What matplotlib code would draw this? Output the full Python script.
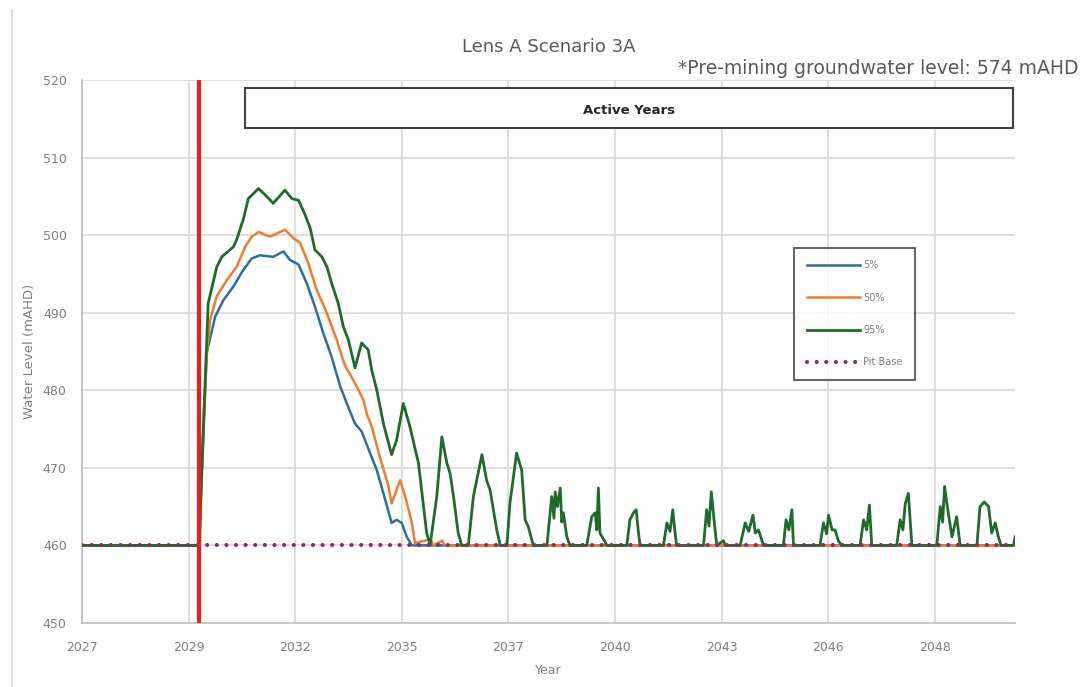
import matplotlib
matplotlib.use('Agg')
import matplotlib.pyplot as plt
from matplotlib.patches import Rectangle
from matplotlib.lines import Line2D

plt.rcParams['font.family'] = ['DejaVu Sans']

# modelled water level (mAHD) by decimal year
yr_5 = [2027.00, 2030.00, 2030.07, 2030.20, 2030.42, 2030.63, 2030.89, 2031.14,
        2031.36, 2031.57, 2031.91, 2032.17, 2032.34, 2032.56, 2032.77, 2032.98,
        2033.20, 2033.41, 2033.63, 2033.80, 2034.01, 2034.18, 2034.35, 2034.57,
        2034.74, 2034.95, 2035.08, 2035.21, 2035.34, 2035.47, 2050.96]
wl_5 = [460.0, 460.0, 468.0, 484.8, 489.5, 491.6, 493.4, 495.5,
        497.0, 497.4, 497.2, 497.9, 496.8, 496.2, 493.8, 490.8,
        487.3, 484.3, 480.5, 478.3, 475.7, 474.7, 472.5, 469.7,
        466.7, 462.9, 463.3, 462.9, 461.1, 460.0, 460.0]

yr_50 = [2027.00, 2030.00, 2030.07, 2030.20, 2030.29, 2030.46, 2030.72, 2030.97,
         2031.19, 2031.36, 2031.53, 2031.83, 2032.21, 2032.43, 2032.60, 2032.81,
         2033.03, 2033.29, 2033.54, 2033.75, 2033.97, 2034.14, 2034.23, 2034.31,
         2034.44, 2034.65, 2034.87, 2034.95, 2035.17, 2035.30, 2035.47, 2035.55,
         2035.95, 2036.02, 2036.25, 2036.32, 2050.96]
wl_50 = [460.0, 460.0, 470.0, 484.3, 489.1, 492.1, 494.2, 495.9,
         498.5, 499.8, 500.4, 499.8, 500.7, 499.6, 499.0, 496.4,
         492.9, 489.9, 486.5, 483.2, 481.3, 479.6, 478.7, 477.0,
         475.3, 471.4, 467.6, 465.4, 468.4, 466.3, 462.9, 460.3,
         460.8, 460.0, 460.6, 460.0, 460.0]

yr_95 = [2027.00, 2030.02, 2030.07, 2030.24, 2030.46, 2030.59, 2030.89, 2030.97,
         2031.14, 2031.27, 2031.53, 2031.70, 2031.91, 2032.21, 2032.39, 2032.56,
         2032.73, 2032.86, 2032.98, 2033.16, 2033.29, 2033.41, 2033.58, 2033.71,
         2033.84, 2034.01, 2034.18, 2034.35, 2034.44, 2034.57, 2034.74, 2034.95,
         2035.08, 2035.25, 2035.42, 2035.64, 2035.85, 2035.94, 2036.11, 2036.24,
         2036.37, 2036.45, 2036.54, 2036.66, 2036.75, 2036.92, 2037.05, 2037.27,
         2037.39, 2037.48, 2037.65, 2037.74, 2037.91, 2037.99, 2038.16, 2038.29,
         2038.38, 2038.46, 2038.59, 2038.94, 2039.06, 2039.12, 2039.15, 2039.21,
         2039.28, 2039.32, 2039.36, 2039.45, 2039.53, 2039.96, 2040.09, 2040.18,
         2040.22, 2040.26, 2040.30, 2040.48, 2040.99, 2041.07, 2041.16, 2041.23,
         2041.29, 2041.33, 2041.93, 2042.02, 2042.10, 2042.17, 2042.23, 2042.27,
         2042.96, 2043.04, 2043.10, 2043.16, 2043.23, 2043.30, 2043.47, 2043.52,
         2043.90, 2044.03, 2044.12, 2044.23, 2044.29, 2044.37, 2044.50, 2045.01,
         2045.08, 2045.15, 2045.23, 2045.27, 2045.95, 2046.04, 2046.12, 2046.17,
         2046.26, 2046.34, 2046.42, 2046.51, 2046.98, 2047.07, 2047.15, 2047.22,
         2047.28, 2047.92, 2048.01, 2048.08, 2048.14, 2048.22, 2048.31, 2048.95,
         2049.04, 2049.10, 2049.15, 2049.22, 2049.34, 2049.46, 2049.55, 2049.98,
         2050.06, 2050.17, 2050.28, 2050.36, 2050.45, 2050.53, 2050.60, 2050.92,
         2050.96]
wl_95 = [460.0, 460.0, 469.3, 491.2, 495.9, 497.2, 498.5, 499.4,
         502.0, 504.7, 506.0, 505.2, 504.1, 505.8, 504.7, 504.5,
         502.6, 500.9, 498.1, 497.2, 495.9, 493.8, 491.2, 488.2,
         486.5, 482.9, 486.1, 485.2, 482.6, 480.0, 475.7, 471.7,
         473.6, 478.3, 475.3, 470.6, 461.6, 460.1, 466.3, 474.0,
         470.6, 469.3, 466.3, 461.6, 460.0, 460.0, 466.3, 471.7,
         468.4, 467.1, 462.0, 460.0, 460.0, 465.5, 471.9, 469.7,
         463.3, 462.4, 460.0, 460.0, 466.3, 463.5, 466.9, 465.0,
         467.4, 463.0, 464.2, 461.1, 460.0, 460.0, 463.7, 464.2,
         462.0, 467.4, 461.6, 460.0, 460.0, 463.3, 464.2, 464.6,
         461.6, 460.0, 460.0, 462.9, 461.8, 464.6, 461.6, 460.0,
         460.0, 464.6, 462.5, 466.9, 463.3, 460.0, 460.6, 460.0,
         460.0, 462.9, 461.8, 463.9, 461.6, 462.0, 460.0, 460.0,
         463.3, 462.0, 464.6, 460.0, 460.0, 462.9, 461.5, 463.9,
         462.0, 462.0, 460.6, 460.0, 460.0, 463.3, 462.0, 465.2,
         460.0, 460.0, 463.3, 462.0, 465.4, 466.7, 460.0, 460.0,
         465.0, 463.0, 467.6, 465.0, 461.1, 463.7, 460.0, 460.0,
         465.0, 465.6, 465.0, 461.6, 462.9, 461.1, 460.0, 460.0,
         461.1]

pit_base = 460.0
mining_start = 2030.0
active_years = (2031.19, 2050.91)
x_start, x_end = 2027.0, 2027.0 + 8750 / 365.25

# year axis ticks fall every 1000 days from 1 Jan 2027
tick_days = [0, 1000, 2000, 3000, 4000, 5000, 6000, 7000, 8000]
tick_pos = [x_start + d / 365.25 for d in tick_days]
tick_lab = [str(int(p)) for p in tick_pos]

fig = plt.figure(figsize=(10.82, 6.87), dpi=100)
ax = fig.add_axes([0.0758, 0.0932, 0.8622, 0.7904])

grey = '#7f7f7f'
ax.grid(True, color='#d9d9d9', linewidth=1.2)
ax.set_axisbelow(True)
for side in ['top', 'right']:
    ax.spines[side].set_visible(False)
for side in ['left', 'bottom']:
    ax.spines[side].set_color('#bfbfbf')
    ax.spines[side].set_linewidth(1.2)

ax.plot(yr_5, wl_5, color='#2a6f9e', linewidth=1.8, label='5%', zorder=3)
ax.plot(yr_50, wl_50, color='#ec7c30', linewidth=1.8, label='50%', zorder=3)
ax.plot(yr_95, wl_95, color='#1f6b2c', linewidth=2.0, label='95%', zorder=3)
ax.plot([x_start, x_end], [pit_base, pit_base], color='#8c2a6a',
        linewidth=3, linestyle=(0, (0.01, 2.3)), dash_capstyle='round',
        label='Pit Base', zorder=4)

ax.axvline(mining_start, color='#ee1c1c', linewidth=3, zorder=5)

ax.add_patch(Rectangle((active_years[0], 513.8), active_years[1] - active_years[0], 5.2,
                       facecolor='white', edgecolor='#404040', linewidth=1.5, zorder=6))
ax.text(sum(active_years) / 2, 516.1, 'Active Years', ha='center', va='center',
        fontsize=9.5, fontweight='bold', color='#262626', zorder=7)

ax.set_xlim(x_start, x_end)
ax.set_ylim(450, 520)
ax.set_yticks(range(450, 521, 10))
ax.set_xticks(tick_pos)
ax.set_xticklabels(tick_lab)
ax.tick_params(length=0, labelsize=9, labelcolor=grey)
ax.tick_params(axis='y', pad=11)
ax.tick_params(axis='x', pad=13)
ax.set_xlabel('Year', fontsize=9, color=grey, labelpad=7)
ax.set_ylabel('Water Level (mAHD)', fontsize=9.5, color=grey, labelpad=5)

ax.set_title('Lens A Scenario 3A', fontsize=13, color='#595959', pad=20)
fig.text(0.997, 0.9, '*Pre-mining groundwater level: 574 mAHD', ha='right',
         va='center', fontsize=13.5, color='#595959')

leg = ax.legend(loc='upper left', bbox_to_anchor=(0.758, 0.70), fontsize=7,
                handlelength=5.5, labelspacing=2.3, borderpad=1.3, handletextpad=0.3,
                fancybox=False, frameon=True, labelcolor=grey)
leg.get_frame().set_edgecolor('#404040')
leg.get_frame().set_linewidth(1.5)

fig.add_artist(Line2D([0.011, 0.011], [0.0, 0.985], color='#d9d9d9', linewidth=1.2))

fig.savefig('out.png', dpi=100)
